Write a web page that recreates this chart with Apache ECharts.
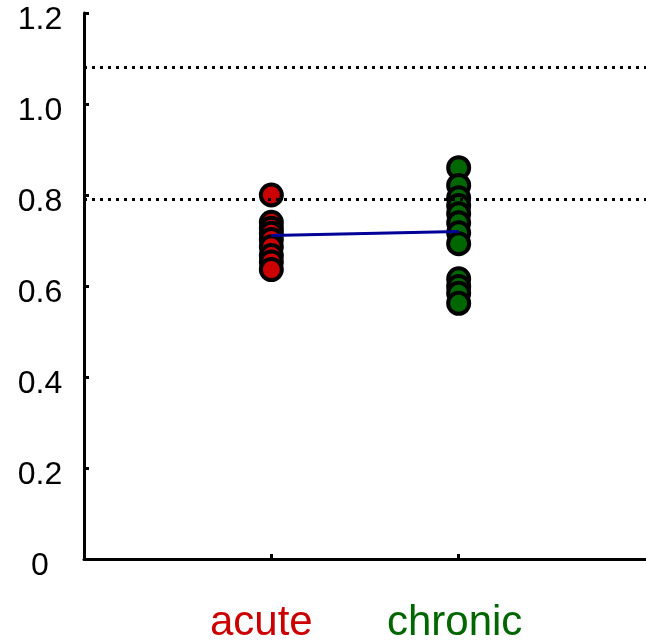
<!DOCTYPE html>
<html>
<head>
<meta charset="utf-8">
<script src="https://cdn.jsdelivr.net/npm/echarts@6/dist/echarts.min.js"></script>
<style>
html,body{margin:0;padding:0;background:#fff;}
#chart{width:646px;height:640px;}
</style>
</head>
<body>
<div id="chart"></div>
<script>
// ---- data ----
var categories = ['acute', 'chronic'];
var categoryColors = ['#CC0000', '#006600'];
var acuteValues = [0.800, 0.740, 0.727, 0.716, 0.702, 0.686, 0.667, 0.653, 0.636];
var chronicValues = [0.860, 0.821, 0.794, 0.777, 0.759, 0.739, 0.717, 0.693, 0.616, 0.599, 0.584, 0.562];
var meanValues = [0.711, 0.720];
var refLines = [1.078, 0.790];
var yTicks = [0, 0.2, 0.4, 0.6, 0.8, 1.0, 1.2];

var FONT = '"Liberation Sans", Arial, sans-serif';

function scatterSeries(idx, values) {
  var pos = idx + 1;
  var sorted = values.slice().sort(function (a, b) { return b - a; });
  return {
    type: 'scatter',
    data: sorted.map(function (v) { return [pos, v]; }),
    symbol: 'circle',
    symbolSize: 21,
    itemStyle: { color: categoryColors[idx], borderColor: '#000', borderWidth: 4, opacity: 1 },
    z: 3,
    emphasis: { disabled: true }
  };
}

var chart = echarts.init(document.getElementById('chart'), null, { renderer: 'canvas' });
chart.setOption({
  animation: false,
  backgroundColor: '#fff',
  grid: { left: 84, right: 0, top: 13, bottom: 81, containLabel: false, outerBoundsMode: 'none' },
  xAxis: {
    type: 'value', min: 0, max: 3, interval: 1,
    splitLine: { show: false },
    axisLine: { show: true, lineStyle: { color: '#000', width: 3 } },
    axisTick: { show: true, inside: true, length: 5, lineStyle: { color: '#000', width: 3 }, customValues: [1, 2] },
    axisLabel: {
      customValues: [1, 2],
      margin: 43,
      formatter: function (v) {
        var i = Math.round(v) - 1;
        return '{c' + i + '|' + categories[i] + '}';
      },
      rich: {
        c0: { color: categoryColors[0], fontSize: 42, fontFamily: FONT, padding: [0, 20, 0, 0] },
        c1: { color: categoryColors[1], fontSize: 42, fontFamily: FONT, padding: [0, 8, 0, 0] }
      }
    }
  },
  yAxis: {
    type: 'value', min: 0, max: 1.2, interval: 0.2,
    splitLine: { show: false },
    axisLine: { show: true, lineStyle: { color: '#000', width: 3 } },
    axisTick: { show: true, inside: true, length: 5, lineStyle: { color: '#000', width: 3 } },
    axisLabel: {
      customValues: yTicks,
      color: '#000', fontSize: 32, fontFamily: FONT,
      align: 'center', verticalAlign: 'top', lineHeight: 14, margin: 44,
      formatter: function (v) { return v === 0 ? '0' : v.toFixed(1); }
    }
  },
  series: [
    scatterSeries(0, acuteValues),
    scatterSeries(1, chronicValues),
    {
      type: 'line',
      data: meanValues.map(function (v, i) { return [i + 1, v]; }),
      showSymbol: false,
      symbol: 'none',
      lineStyle: { color: '#000099', width: 3 },
      z: 5,
      silent: true,
      markLine: {
        silent: true,
        symbol: ['none', 'none'],
        label: { show: false },
        lineStyle: { color: '#000', width: 3, type: [3, 5] },
        data: refLines.map(function (v) { return { yAxis: v }; })
      }
    }
  ]
});
</script>
</body>
</html>
